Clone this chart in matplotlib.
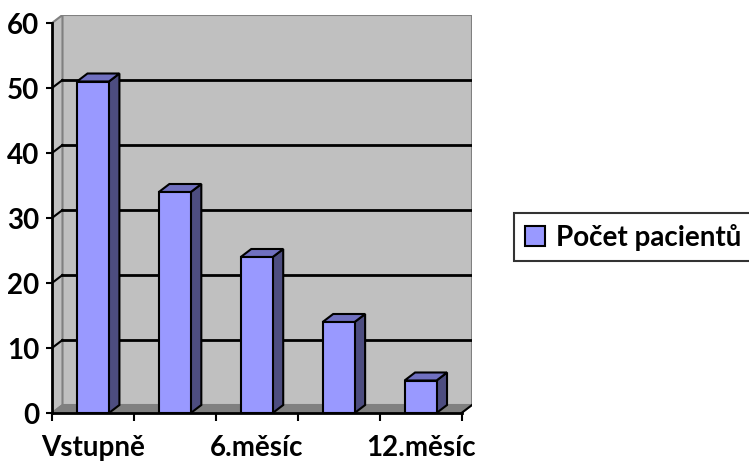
import matplotlib.pyplot as plt
from matplotlib.patches import Polygon, Rectangle

categories = ["Vstupně", "3.měsíc", "6.měsíc", "9.měsíc", "12.měsíc"]
patients = [51, 34, 24, 14, 5]
y_ticks = [0, 10, 20, 30, 40, 50, 60]
series_name = "Počet pacientů"

plt.rcParams['font.family'] = ['Lato', 'DejaVu Sans']
plt.rcParams['font.weight'] = 'bold'

W, H = 749, 461
fig = plt.figure(figsize=(W / 100, H / 100), dpi=100)

# depth of the fake 3d box, in data units
ddx = 10.5 / 82
ddy = 8 / 6.5
ymax = y_ticks[-1]
n = len(categories)
x0, x1 = -0.5, n - 0.5

ax = fig.add_axes([52 / W, (H - 413) / H, (472 - 52) / W, (413 - 15) / H])
ax.set_xlim(x0, x1 + ddx)
ax.set_ylim(0, ymax + ddy)
ax.patch.set_visible(False)

wall = '#c0c0c0'
floor = '#808080'
edge_grey = '#808080'

# back wall, side wall, floor
ax.add_patch(Rectangle((x0 + ddx, ddy), x1 - x0, ymax, facecolor=wall,
                       edgecolor=edge_grey, lw=1.5, zorder=1))
ax.add_patch(Polygon([(x0, 0), (x0 + ddx, ddy), (x0 + ddx, ymax + ddy), (x0, ymax)],
                     facecolor=wall, edgecolor=edge_grey, lw=1.5, zorder=1))
ax.add_patch(Polygon([(x0, 0), (x1, 0), (x1 + ddx, ddy), (x0 + ddx, ddy)],
                     facecolor=floor, edgecolor=edge_grey, lw=1.2, zorder=1))
ax.plot([x1, x1 + ddx], [0, ddy], color='black', lw=1.5, zorder=2)

# gridlines on the back wall and the side wall
for v in y_ticks[1:-1]:
    ax.plot([x0 + ddx, x1 + ddx], [v + ddy, v + ddy], color='black', lw=2, zorder=2)
    ax.plot([x0, x0 + ddx], [v, v + ddy], color='black', lw=1.5, zorder=2)

# bars drawn as front, side and top faces
bw = 0.39
for i, v in enumerate(patients):
    l, r = i - bw / 2, i + bw / 2
    ax.add_patch(Polygon([(r, 0), (r + ddx, ddy), (r + ddx, v + ddy), (r, v)],
                         facecolor='#4d4d80', edgecolor='black', lw=1.5, zorder=3))
    ax.add_patch(Polygon([(l, v), (r, v), (r + ddx, v + ddy), (l + ddx, v + ddy)],
                         facecolor='#7070c0', edgecolor='black', lw=1.5, zorder=3))
    ax.add_patch(Rectangle((l, 0), bw, v, facecolor='#9999ff',
                           edgecolor='black', lw=1.5, zorder=4))

for side in ['top', 'right']:
    ax.spines[side].set_visible(False)
ax.spines['left'].set_bounds(0, ymax)
ax.spines['bottom'].set_bounds(x0, x1)
for side in ['left', 'bottom']:
    ax.spines[side].set_linewidth(2)
    ax.spines[side].set_zorder(5)

fs = 20
ax.set_yticks(y_ticks)
ax.tick_params(axis='y', direction='out', length=4, width=1.5, pad=5, labelsize=fs)
ax.set_xticks(range(0, n, 2))
ax.set_xticklabels(categories[::2])
ax.set_xticks([x0 + k for k in range(n + 1)], minor=True)
ax.tick_params(axis='x', which='major', length=0, pad=16, labelsize=fs)
ax.tick_params(axis='x', which='minor', direction='out', length=6, width=1.5)
for lbl in ax.get_xticklabels() + ax.get_yticklabels():
    lbl.set_fontweight('bold')

handle = Rectangle((0, 0), 1, 1, facecolor='#9999ff', edgecolor='black', lw=1.5)
leg = fig.legend([handle], [series_name], loc='center left',
                 bbox_to_anchor=(514 / W, 1 - 237 / H), fancybox=False,
                 prop={'size': fs, 'weight': 'bold'}, handlelength=0.75,
                 handleheight=0.75, handletextpad=0.4, borderpad=0.38,
                 borderaxespad=0)
leg.get_frame().set_edgecolor('black')
leg.get_frame().set_linewidth(1.5)

fig.savefig('out.png', dpi=100)
